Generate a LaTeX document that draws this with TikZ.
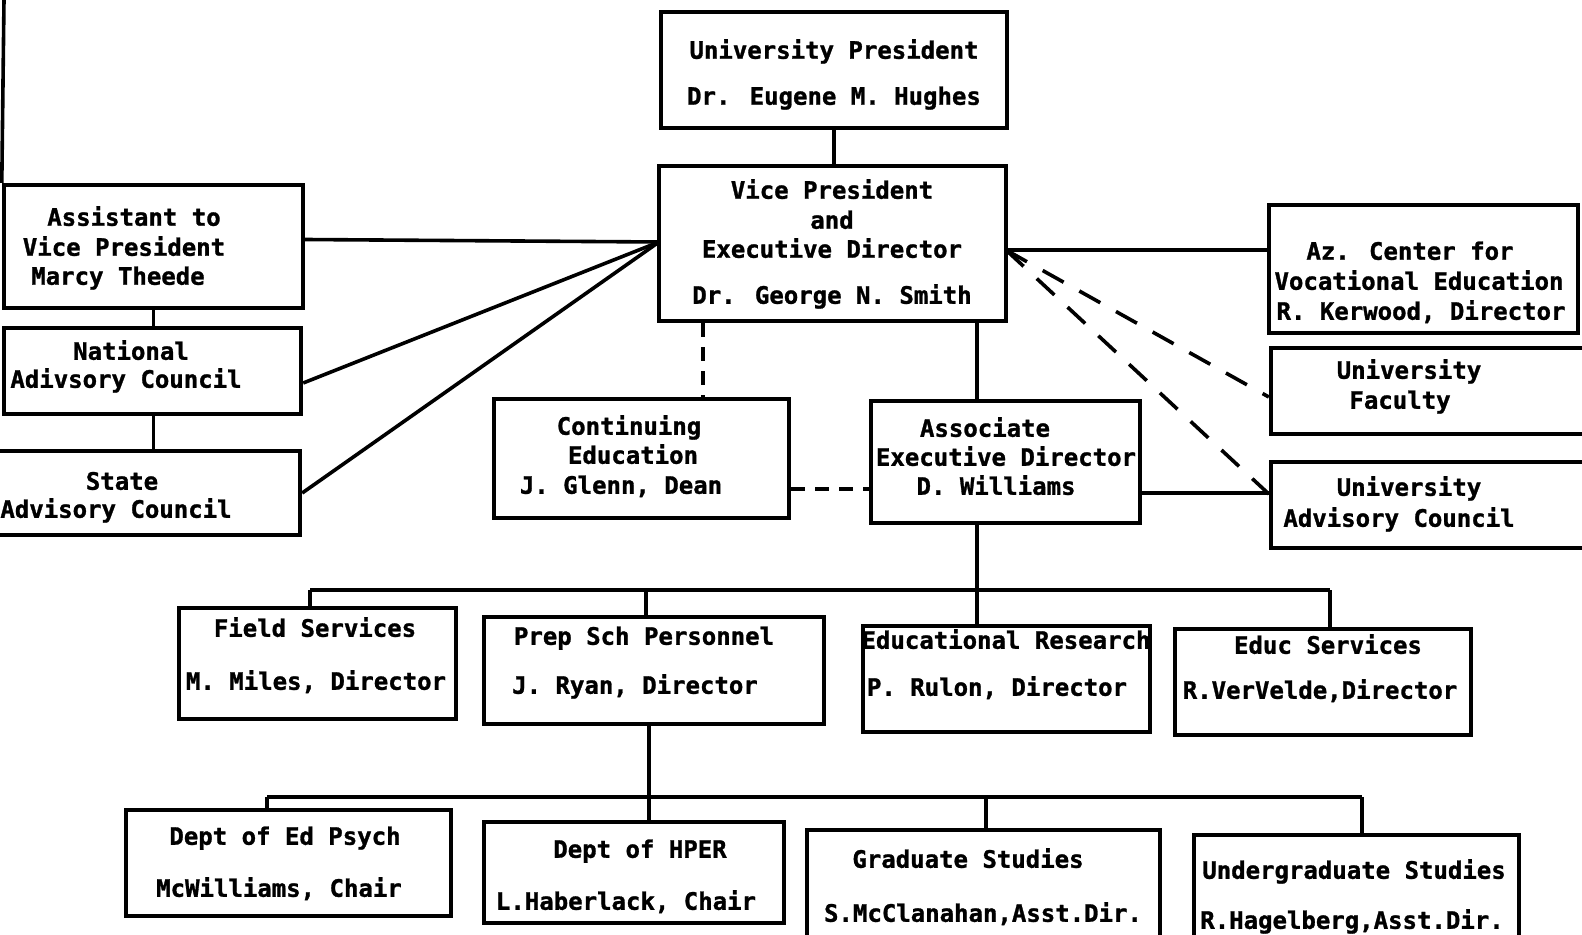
\documentclass[tikz,border=0pt]{standalone}
\usepackage{fontspec}
\setmainfont{DejaVu Sans Mono}[BoldFeatures={FakeBold=1.2}]
\usetikzlibrary{fit,calc}

\tikzset{
  orgbox/.style={draw, line width=2.2pt, inner sep=0pt},
  tl/.style={font=\bfseries\fontsize{12}{14}\selectfont, inner sep=0pt,
             text height=1.6ex, text depth=0pt},
  link/.style={line width=1.8pt},
  longdash/.style={line width=1.8pt, dash pattern=on 12pt off 9pt},
  shortdash/.style={line width=1.8pt, dash pattern=on 7pt off 5pt},
}

\begin{document}
\begin{tikzpicture}[x=0.5pt,y=-0.5pt]
\useasboundingbox (0,0) rectangle (1582,935);
\clip (0,0) rectangle (1582,935);

% ---- boxes ----
\node[orgbox, fit={(661,12) (1007,128)}]    (pres)   {};
\node[orgbox, fit={(659,166) (1006,321)}]   (vp)     {};
\node[orgbox, fit={(4,185) (303,308)}]      (asst)   {};
\node[orgbox, fit={(4,328) (301,414)}]      (natl)   {};
\node[orgbox, fit={(-10,451) (300,535)}]    (state)  {};
\node[orgbox, fit={(1269,205) (1578,333)}]  (azc)    {};
\node[orgbox, fit={(1271,348) (1595,434)}]  (fac)    {};
\node[orgbox, fit={(1271,462) (1595,548)}]  (uac)    {};
\node[orgbox, fit={(494,399) (789,518)}]    (cont)   {};
\node[orgbox, fit={(871,401) (1140,523)}]   (assoc)  {};
\node[orgbox, fit={(179,608) (456,719)}]    (field)  {};
\node[orgbox, fit={(484,617) (824,724)}]    (prep)   {};
\node[orgbox, fit={(863,626) (1150,732)}]   (edres)  {};
\node[orgbox, fit={(1175,629) (1471,735)}]  (edserv) {};
\node[orgbox, fit={(126,810) (451,916)}]    (psych)  {};
\node[orgbox, fit={(484,822) (784,923)}]    (hper)   {};
\node[orgbox, fit={(807,830) (1160,950)}]   (grad)   {};
\node[orgbox, fit={(1194,835) (1519,950)}]  (ugrad)  {};

% ---- box texts ----
\node[tl] (pres-a) at (834,50)  {University President};
\node[tl] (pres-b) at (834,96)  {Dr. Eugene M. Hughes};

\node[tl] (vp-a) at (832,190) {Vice President};
\node[tl] (vp-b) at (832,220) {and};
\node[tl] (vp-c) at (832,249) {Executive Director};
\node[tl] (vp-d) at (832,295) {Dr. George N. Smith};

\node[tl] (asst-a) at (134,217) {Assistant to};
\node[tl] (asst-b) at (124,247) {Vice President};
\node[tl] (asst-c) at (118,276) {Marcy Theede};

\node[tl] (natl-a) at (131,351) {National};
\node[tl] (natl-b) at (126,379) {Adivsory Council};

\node[tl] (state-a) at (122,481) {State};
\node[tl] (state-b) at (116,509) {Advisory Council};

\node[tl] (azc-a) at (1410,251) {Az. Center for};
\node[tl] (azc-b) at (1419,281) {Vocational Education};
\node[tl] (azc-c) at (1421,311) {R. Kerwood, Director};

\node[tl] (fac-a) at (1409,370) {University};
\node[tl] (fac-b) at (1400,400) {Faculty};

\node[tl] (uac-a) at (1409,487) {University};
\node[tl] (uac-b) at (1399,518) {Advisory Council};

\node[tl] (cont-a) at (629,426) {Continuing};
\node[tl] (cont-b) at (633,455) {Education};
\node[tl] (cont-c) at (621,485) {J. Glenn, Dean};

\node[tl] (assoc-a) at (985,428)  {Associate};
\node[tl] (assoc-b) at (1006,457) {Executive Director};
\node[tl] (assoc-c) at (996,486)  {D. Williams};

\node[tl] (field-a) at (315,628) {Field Services};
\node[tl] (field-b) at (316,681) {M. Miles, Director};

\node[tl] (prep-a) at (644,636) {Prep Sch Personnel};
\node[tl] (prep-b) at (635,685) {J. Ryan, Director};

\node[tl] (edres-a) at (1006,640) {Educational Research};
\node[tl] (edres-b) at (997,687)  {P. Rulon, Director};

\node[tl] (edserv-a) at (1328,645) {Educ Services};
\node[tl] (edserv-b) at (1320,690) {R.VerVelde,Director};

\node[tl] (psych-a) at (285,836) {Dept of Ed Psych};
\node[tl] (psych-b) at (279,888) {McWilliams, Chair};

\node[tl] (hper-a) at (640,849) {Dept of HPER};
\node[tl] (hper-b) at (626,901) {L.Haberlack, Chair};

\node[tl] (grad-a) at (968,859) {Graduate Studies};
\node[tl] (grad-b) at (983,913) {S.McClanahan,Asst.Dir.};

\node[tl] (ugrad-a) at (1354,870) {Undergraduate Studies};
\node[tl] (ugrad-b) at (1352,920) {R.Hagelberg,Asst.Dir.};

% ---- connector anchors ----
\coordinate (edge)  at (4,0);
\coordinate (vpL)   at (659,242);
\coordinate (vpR)   at (1006,250);
\coordinate (xcont) at (703,0);
\coordinate (xassc) at (977,0);
\coordinate (ycont) at (0,489);
\coordinate (yuac)  at (0,493);
\coordinate (b1L)   at (310,590);
\coordinate (b1P)   at (646,590);
\coordinate (b1R)   at (1330,590);
\coordinate (xprep) at (649,0);
\coordinate (b2L)   at (267,797);
\coordinate (b2G)   at (986,797);
\coordinate (b2R)   at (1362,797);

% ---- connectors ----
\draw[link] (edge) -- (asst.north west);
\draw[link] (pres.south) -- (pres.south |- vp.north);
\draw[link] (asst.north |- asst.south) -- (asst.north |- natl.north);
\draw[link] (asst.north |- natl.south) -- (asst.north |- state.north);

\draw[link] ($(asst.east)+(0,-7)$) -- (vpL);
\draw[link] ($(natl.east)+(0,12)$) -- (vpL);
\draw[link] (state.east) -- (vpL);

\draw[link] (vpR) -- (vpR -| azc.west);
\draw[longdash] (vpR) -- ($(fac.west)+(0,6)$);
\draw[longdash] (vpR) -- ($(uac.west)+(0,-11)$);

\draw[shortdash] (xcont |- vp.south) -- (xcont |- cont.north);
\draw[link] (xassc |- vp.south) -- (xassc |- assoc.north);
\draw[shortdash] (ycont -| cont.east) -- (ycont -| assoc.west);
\draw[link] (yuac -| assoc.east) -- (yuac -| uac.west);

% first tier under the associate director
\draw[link] (xassc |- assoc.south) -- (xassc |- edres.north);
\draw[link] (b1L) -- (b1R);
\draw[link] (b1L) -- (b1L |- field.north);
\draw[link] (b1P) -- (b1P |- prep.north);
\draw[link] (b1R) -- (b1R |- edserv.north);

% departments under school personnel preparation
\draw[link] (xprep |- prep.south) -- (xprep |- b2L);
\draw[link] (b2L) -- (b2R);
\draw[link] (b2L) -- (b2L |- psych.north);
\draw[link] (xprep |- b2L) -- (xprep |- hper.north);
\draw[link] (b2G) -- (b2G |- grad.north);
\draw[link] (b2R) -- (b2R |- ugrad.north);
\end{tikzpicture}
\end{document}
